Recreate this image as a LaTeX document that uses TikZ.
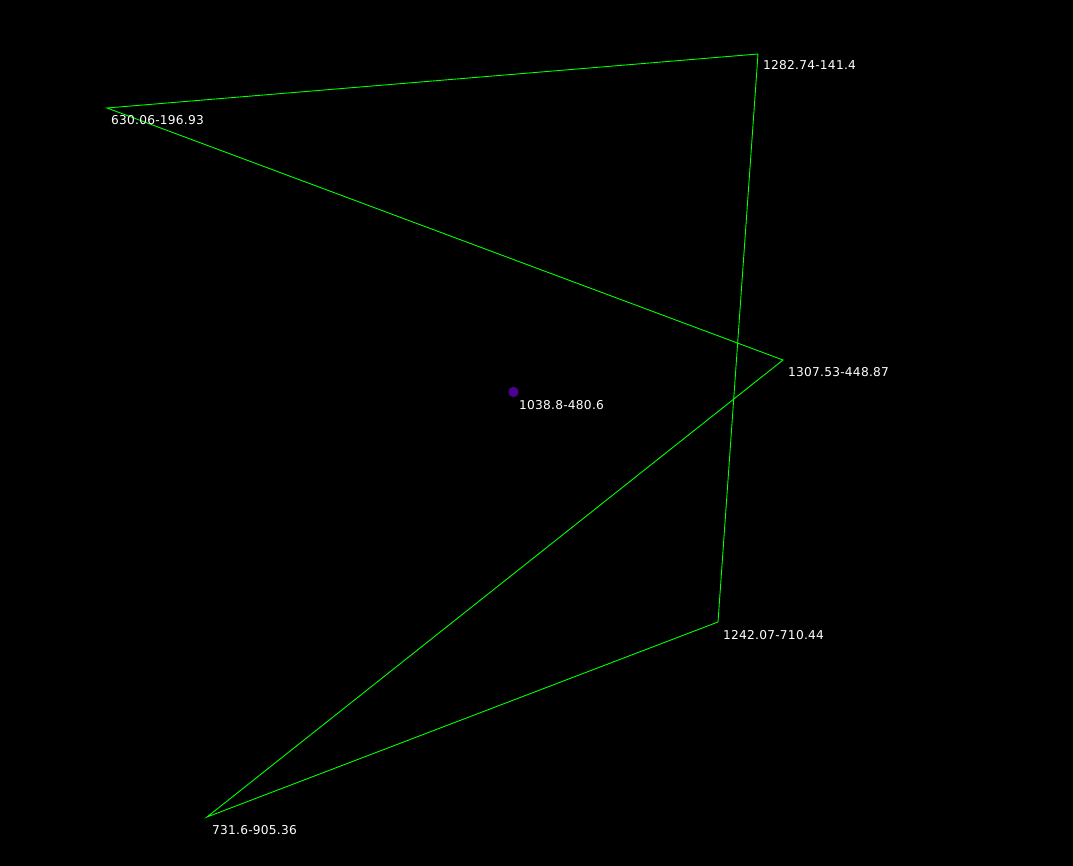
\documentclass[tikz,border=0pt]{standalone}
\usepackage{fontspec}
\setmainfont{DejaVu Sans}[LetterSpace=2]
\definecolor{lime}{HTML}{00FF00}
\definecolor{indig}{HTML}{4B0090}
\tikzset{
  edge/.style={draw=lime, line width=0.9pt},
  lbl/.style={anchor=base west, inner sep=0pt, text=white, font=\fontsize{12.2}{14}\selectfont},
  pt/.style={coordinate}
}
\begin{document}
\begin{tikzpicture}[x=1pt,y=-1pt]
\fill[black] (0,0) rectangle (1073,866);
\useasboundingbox (0,0) rectangle (1073,866);
\node[pt] (a) at (107,108) {};
\node[pt] (b) at (758,54) {};
\node[pt] (c) at (783,360) {};
\node[pt] (d) at (718,622) {};
\node[pt] (e) at (207,817) {};
\draw[edge] (a) -- (b) -- (d) -- (e) -- (c) -- cycle;
\fill[indig] (513.5,392) circle (5.2);
\node[lbl] (la) at (111,125) {630.06-196.93};
\node[lbl] (lb) at (763,70) {1282.74-141.4};
\node[lbl] (lc) at (788,377) {1307.53-448.87};
\node[lbl] (ld) at (723,639) {1242.07-710.44};
\node[lbl] (le) at (212,834) {731.6-905.36};
\node[lbl] (lm) at (519,409) {1038.8-480.6};
\end{tikzpicture}
\end{document}
